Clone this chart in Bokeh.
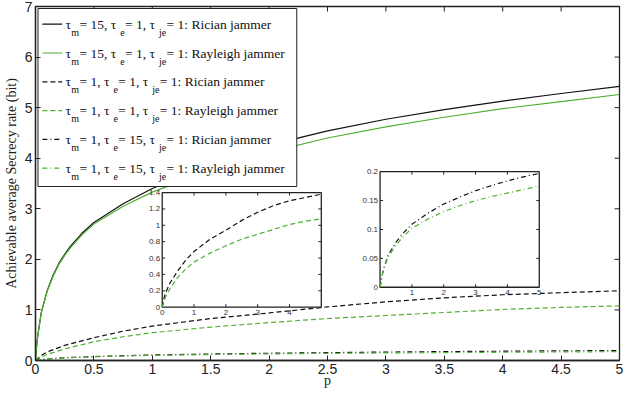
from bokeh.plotting import figure
from bokeh.models import Range1d, FixedTicker, CustomJSTickFormatter
from bokeh.core.properties import value
from bokeh.embed import file_html
from bokeh.resources import INLINE

# ---------------- data ----------------
p_high = [0, 0.01, 0.02, 0.05, 0.1, 0.15, 0.2, 0.25, 0.3, 0.4, 0.5, 0.75, 1.0,
          1.5, 2.0, 2.5, 3.0, 3.5, 4.0, 4.5, 5.0]
rate_m15_rician = [0, 0.3, 0.5, 0.95, 1.38, 1.68, 1.92, 2.1, 2.26, 2.52, 2.73,
                   3.1, 3.4, 3.88, 4.26, 4.54, 4.77, 4.96, 5.13, 5.28, 5.42]
rate_m15_rayleigh = [0, 0.3, 0.5, 0.95, 1.37, 1.66, 1.9, 2.08, 2.23, 2.49, 2.7,
                     3.05, 3.33, 3.77, 4.12, 4.40, 4.62, 4.81, 4.98, 5.12, 5.26]
p_low = [0, 0.05, 0.1, 0.25, 0.5, 0.75, 1.0, 1.5, 2.0, 2.5, 3.0, 3.5, 4.0, 4.5, 5.0]
rate_m1_rician = [0, 0.1, 0.17, 0.3, 0.45, 0.58, 0.68, 0.83, 0.94, 1.06, 1.16,
                  1.24, 1.30, 1.34, 1.38]
rate_m1_rayleigh = [0, 0.07, 0.12, 0.23, 0.37, 0.47, 0.55, 0.66, 0.75, 0.83, 0.89,
                    0.95, 1.01, 1.05, 1.08]
rate_e15_rician = [0, 0.015, 0.03, 0.055, 0.078, 0.095, 0.109, 0.128, 0.144, 0.156,
                   0.167, 0.176, 0.184, 0.191, 0.197]
rate_e15_rayleigh = [0, 0.015, 0.03, 0.052, 0.073, 0.089, 0.102, 0.118, 0.131, 0.141,
                     0.150, 0.157, 0.163, 0.169, 0.175]

x_ticks = [0, 0.5, 1, 1.5, 2, 2.5, 3, 3.5, 4, 4.5, 5]
y_ticks = [0, 1, 2, 3, 4, 5, 6, 7]

inset1_xticks = [0, 1, 2, 3, 4]
inset1_yticks = [0, 0.2, 0.4, 0.6, 0.8, 1, 1.2, 1.4]
inset1_ylabels = ["0", "0.2", "0.4", "0.6", "0.8", "1", "1.2", "1.4"]
inset2_xticks = [1, 2, 3, 4, 5]
inset2_yticks = [0, 0.05, 0.1, 0.15, 0.2]
inset2_ylabels = ["0", "0.05", "0.1", "0.15", "0.2"]

legend_rows = [("15", "1", "Rician"), ("15", "1", "Rayleigh"),
               ("1", "1", "Rician"), ("1", "1", "Rayleigh"),
               ("1", "15", "Rician"), ("1", "15", "Rayleigh")]

# ---------------- styling ----------------
BLACK = "#111111"
GREEN = "#4fb033"
AXC = "#222222"
DASH = "5 3"
DASHDOT = "5 3 1 3"
styles = [(BLACK, "solid"), (GREEN, "solid"), (BLACK, DASH), (GREEN, DASH),
          (BLACK, DASHDOT), (GREEN, DASHDOT)]

W, H = 624, 391
BL, BR, BT, BB = 30, 5, 6, 31
FW, FH = W - BL - BR, H - BT - BB   # expected frame size (px)
XMAX, YMAX = 5.0, 7.0
dx = XMAX / FW
dy = YMAX / FH

p = figure(width=W, height=H, output_backend="svg", toolbar_location=None,
           x_range=Range1d(0, XMAX), y_range=Range1d(0, YMAX),
           min_border_left=BL, min_border_right=BR, min_border_top=BT,
           min_border_bottom=BB)
p.grid.visible = False
p.outline_line_color = AXC
p.outline_line_width = 1.3

fmt = CustomJSTickFormatter(code="return tick.toString();")
TICKFONT = "Liberation Sans"

p.xaxis.ticker = FixedTicker(ticks=x_ticks)
p.yaxis.ticker = FixedTicker(ticks=y_ticks)
for ax in list(p.xaxis) + list(p.yaxis):
    ax.formatter = fmt
    ax.major_tick_in = 5
    ax.major_tick_out = 0
    ax.minor_tick_line_color = None
    ax.axis_line_color = AXC
    ax.axis_line_width = 1.3
    ax.major_tick_line_color = AXC
    ax.major_label_text_font = TICKFONT
    ax.major_label_text_font_size = "14px"
    ax.major_label_text_color = AXC
    ax.major_label_standoff = 3
    ax.axis_label_text_font = "Liberation Serif"
    ax.axis_label_text_font_style = "normal"
    ax.axis_label_text_font_size = "14px"
    ax.axis_label_text_color = AXC

p.yaxis.axis_label = "Achievable average Secrecy rate (bit)"
p.yaxis.axis_label_standoff = 3
p.xaxis.axis_label = "p"
p.xaxis.axis_label_standoff = -4

# inner ticks on the top and right edges of the box
top_x = [t for t in x_ticks if 0 < t < XMAX]
right_y = [t for t in y_ticks if 0 < t < YMAX]
p.segment(x0=top_x, x1=top_x, y0=[YMAX] * len(top_x), y1=[YMAX - 5 * dy] * len(top_x),
          line_color=AXC, line_width=1)
p.segment(x0=[XMAX] * len(right_y), x1=[XMAX - 5 * dx] * len(right_y), y0=right_y,
          y1=right_y, line_color=AXC, line_width=1)

# ---------------- main curves ----------------
series = [(p_high, rate_m15_rician), (p_high, rate_m15_rayleigh),
          (p_low, rate_m1_rician), (p_low, rate_m1_rayleigh),
          (p_low, rate_e15_rician), (p_low, rate_e15_rayleigh)]
for (xs, ys), (col, dash) in zip(series, styles):
    p.line(xs, ys, line_color=col, line_dash=dash, line_width=1.2)

# ---------------- insets ----------------
def inset(name, box, xr, yr, xticks, xlabels, yticks, ylabels, idx):
    bx0, bx1, by0, by1 = box
    sx = (xr[1] - xr[0]) / (bx1 - bx0)
    sy = (yr[1] - yr[0]) / (by1 - by0)
    xs0 = xr[0] - bx0 * sx
    ys0 = yr[0] - by0 * sy
    p.extra_x_ranges[name] = Range1d(xs0, xs0 + XMAX * sx)
    p.extra_y_ranges[name] = Range1d(ys0, ys0 + YMAX * sy)
    kw = dict(x_range_name=name, y_range_name=name)
    p.quad(left=[xr[0]], right=[xr[1]], bottom=[yr[0]], top=[yr[1]],
           fill_color="white", line_color=AXC, line_width=1.3, **kw)
    for i in idx:
        xs, ys = series[i]
        col, dash = styles[i]
        p.line(xs, ys, line_color=col, line_dash=dash, line_width=1.2, **kw)
    tlx = 3 * dx * sx
    tly = 3 * dy * sy
    inner_x = [t for t in xticks if xr[0] < t < xr[1]]
    inner_y = [t for t in yticks if yr[0] < t < yr[1]]
    p.segment(x0=inner_x, x1=inner_x, y0=[yr[0]] * len(inner_x),
              y1=[yr[0] + tly] * len(inner_x), line_color=AXC, **kw)
    p.segment(x0=inner_x, x1=inner_x, y0=[yr[1]] * len(inner_x),
              y1=[yr[1] - tly] * len(inner_x), line_color=AXC, **kw)
    p.segment(x0=[xr[0]] * len(inner_y), x1=[xr[0] + tlx] * len(inner_y),
              y0=inner_y, y1=inner_y, line_color=AXC, **kw)
    p.segment(x0=[xr[1]] * len(inner_y), x1=[xr[1] - tlx] * len(inner_y),
              y0=inner_y, y1=inner_y, line_color=AXC, **kw)
    p.text(x=xticks, y=[yr[0]] * len(xticks), text=xlabels, y_offset=3,
           text_align="center", text_baseline="top", text_font=value("Liberation Sans"),
           text_font_size="8px", text_color="#333333", **kw)
    p.text(x=[xr[0]] * len(yticks), y=yticks, text=ylabels, x_offset=-2,
           text_align="right", text_baseline="middle", text_font=value("Liberation Sans"),
           text_font_size="8px", text_color="#333333", **kw)

inset("in1", (1.085, 2.447, 1.055, 3.321), (0, 5), (0, 1.4),
      inset1_xticks, [str(t) for t in inset1_xticks], inset1_yticks, inset1_ylabels, [2, 3])
inset("in2", (2.950, 4.313, 1.448, 3.734), (0, 5), (0, 0.2),
      inset2_xticks, [str(t) for t in inset2_xticks], inset2_yticks, inset2_ylabels, [4, 5])

# ---------------- legend (drawn by hand for subscripts) ----------------
LEG_W, LEG_H = 261, 178
lx0 = 2.5 * dx
ly0 = YMAX - 2 * dy
p.quad(left=[lx0], right=[lx0 + LEG_W * dx], top=[ly0], bottom=[ly0 - LEG_H * dy],
       fill_color="white", line_color=AXC, line_width=1)

ROW0, ROWSTEP = 15.7, 28.8
MAIN_FS, SUB_FS = 13.5, 10
widths = {' ': 250, '=': 564, ',': 250, ':': 278, '1': 500, '5': 500, 'τ': 440,
          'm': 778, 'e': 444, 'j': 278, 'R': 667, 'i': 278, 'c': 444, 'a': 444,
          'n': 500, 'y': 500, 'l': 278, 'g': 500, 'h': 500, 'r': 333}

def tw(s, fs):
    return sum(widths.get(c, 500) for c in s) * fs / 1000.0

main_txt, main_xo, main_yo = [], [], []
sub_txt, sub_xo, sub_yo = [], [], []
for r, (tm, te, kind) in enumerate(legend_rows):
    yc = ROW0 + r * ROWSTEP
    col, dash = styles[r]
    p.segment(x0=[lx0 + 4.4 * dx], x1=[lx0 + 24.4 * dx], y0=[ly0 - yc * dy],
              y1=[ly0 - yc * dy], line_color=col, line_dash=dash, line_width=1.2)
    pieces = [("τ", 0), ("m", 1), (" = %s, τ" % tm, 0), ("e", 1),
              (" = %s, τ" % te, 0), ("je", 1), (" = 1: %s jammer" % kind, 0)]
    xo = 27.4
    for s, is_sub in pieces:
        if is_sub:
            sub_txt.append(s); sub_xo.append(xo); sub_yo.append(yc + 8)
            xo += tw(s, SUB_FS) + 0.5
        else:
            main_txt.append(s); main_xo.append(xo); main_yo.append(yc)
            xo += tw(s, MAIN_FS)

p.text(x=[lx0] * len(main_txt), y=[ly0] * len(main_txt), text=main_txt,
       x_offset=main_xo, y_offset=main_yo, text_align="left", text_baseline="middle",
       text_font=value("Liberation Serif"), text_font_size="%spx" % MAIN_FS,
       text_color="#111111")
p.text(x=[lx0] * len(sub_txt), y=[ly0] * len(sub_txt), text=sub_txt,
       x_offset=sub_xo, y_offset=sub_yo, text_align="left", text_baseline="middle",
       text_font=value("Liberation Serif"), text_font_size="%spx" % SUB_FS,
       text_color="#111111")

open("out.html", "w").write(file_html(p, INLINE))
